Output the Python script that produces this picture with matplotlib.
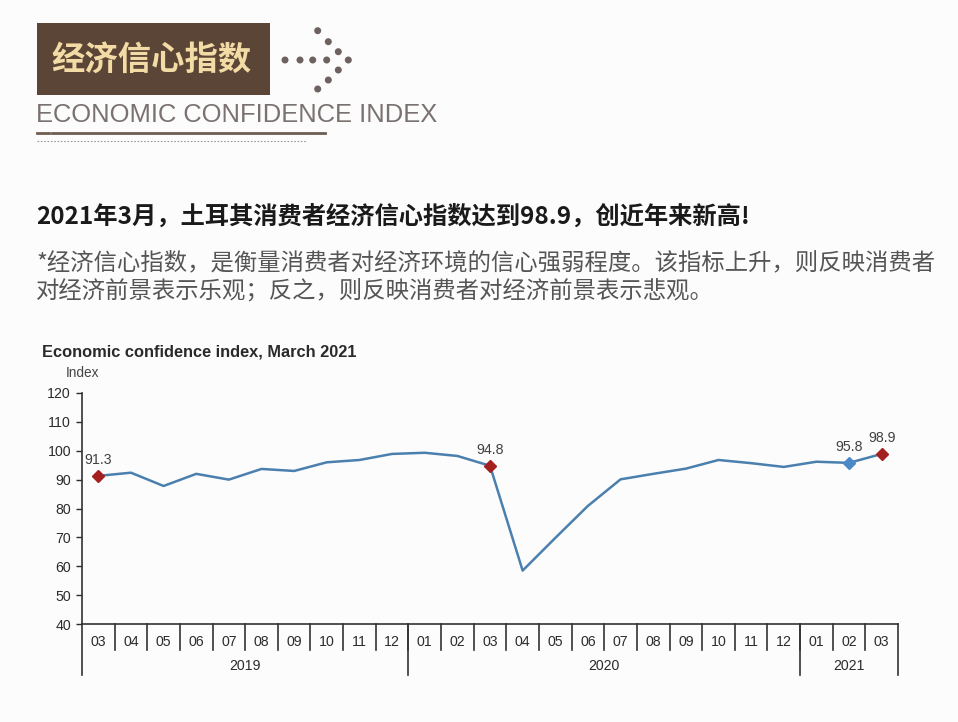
import matplotlib
matplotlib.use("Agg")
import matplotlib.pyplot as plt
import matplotlib.transforms as mtransforms
from matplotlib.patches import Rectangle, Ellipse
from matplotlib.lines import Line2D

# ---------------- data ----------------
months = ["03", "04", "05", "06", "07", "08", "09", "10", "11", "12",
          "01", "02", "03", "04", "05", "06", "07", "08", "09", "10", "11", "12",
          "01", "02", "03"]
years = ["2019", "2020", "2021"]
year_counts = [10, 12, 3]
values = [91.3, 92.4, 87.8, 92.0, 90.0, 93.7, 93.0, 96.0, 96.8, 98.9,
          99.3, 98.2, 94.8, 58.5, 69.8, 80.9, 90.1, 92.0, 93.8, 96.8, 95.7, 94.4,
          96.2, 95.8, 98.9]
highlight_red = [0, 12, 24]
highlight_blue = [23]
yticks = [40, 50, 60, 70, 80, 90, 100, 110, 120]

header_cn = "经济信心指数"
header_en = "ECONOMIC CONFIDENCE INDEX"
headline = "2021年3月，土耳其消费者经济信心指数达到98.9，创近年来新高!"
desc1 = "*经济信心指数，是衡量消费者对经济环境的信心强弱程度。该指标上升，则反映消费者"
desc2 = "对经济前景表示乐观；反之，则反映消费者对经济前景表示悲观。"
chart_title = "Economic confidence index, March 2021"
unit_label = "Index"

# decoration: arrow of dots (pixel coordinates)
arrow_dots = [(285, 60), (300, 60), (312.7, 60), (326.7, 60), (348.3, 60),
              (317.7, 30.7), (328.3, 41.7), (338.3, 51.7),
              (338.3, 70), (328.3, 80), (317.7, 89)]

W, H = 958, 722
CJK = ["Noto Sans CJK SC", "DejaVu Sans"]
plt.rcParams['font.family'] = ["Liberation Sans", "Noto Sans CJK SC", "DejaVu Sans"]

fig = plt.figure(figsize=(W / 100, H / 100), dpi=100)
fig.patch.set_facecolor("#fcfcfc")


def fx(x):
    return x / W


def fy(y):
    return 1 - y / H


# ---------------- header ----------------
fig.patches.append(Rectangle((fx(37), fy(95)), fx(270) - fx(37), fy(23) - fy(95),
                             transform=fig.transFigure, facecolor="#5b4536",
                             edgecolor="none"))
fig.text(fx(152), fy(60), header_cn, family=CJK, fontsize=24, fontweight="bold",
         color="#f2dba5", ha="center", va="center")
for (px, py) in arrow_dots:
    fig.patches.append(Ellipse((fx(px), fy(py)), 7.0 / W, 7.0 / H, transform=fig.transFigure,
                               facecolor="#6e6260", edgecolor="none"))
fig.text(fx(36), fy(115), header_en, fontsize=18.4, color="#7a7270",
         ha="left", va="center")
fig.lines.append(Line2D([fx(37), fx(49)], [fy(133), fy(133)], transform=fig.transFigure,
                        color="#6e5d52", lw=2))
fig.lines.append(Line2D([fx(52), fx(325)], [fy(133), fy(133)], transform=fig.transFigure,
                        color="#6e5d52", lw=2))
fig.lines.append(Line2D([fx(37), fx(307)], [fy(141), fy(141)], transform=fig.transFigure,
                        color="#9a9a9a", lw=0.8, linestyle=(0, (1.5, 1.5))))

# ---------------- text block ----------------
fig.text(fx(36), fy(218), headline, family=CJK, fontsize=17.5, fontweight="bold",
         color="#1a1a1a", ha="left", va="center")
fig.text(fx(36), fy(263), desc1, family=CJK, fontsize=16.8, color="#555555",
         ha="left", va="center")
fig.text(fx(36), fy(292), desc2, family=CJK, fontsize=16.8, color="#555555",
         ha="left", va="center")

# ---------------- chart ----------------
fig.text(fx(42), fy(352), chart_title, fontsize=11.8, fontweight="bold", color="#2a2a2a",
         ha="left", va="center")
fig.text(fx(66), fy(373), unit_label, fontsize=9.8, color="#444444", ha="left", va="center")

ax = fig.add_axes([fx(82), fy(624), fx(898) - fx(82), fy(393) - fy(624)])
ax.set_facecolor("none")
x = list(range(len(values)))
ax.plot(x, values, color="#4a7fae", lw=1.8, zorder=2)
ax.plot([x[i] for i in highlight_red], [values[i] for i in highlight_red], "D",
        color="#a3201e", markersize=6, zorder=3)
ax.plot([x[i] for i in highlight_blue], [values[i] for i in highlight_blue], "D",
        color="#4a88c7", markersize=6, zorder=3)
for i in highlight_red + highlight_blue:
    ax.annotate(f"{values[i]:.1f}", (x[i], values[i]), xytext=(0, 6.5),
                textcoords="offset points", ha="center", va="bottom",
                fontsize=10.2, color="#404040")

ax.set_xlim(-0.5, len(values) - 0.5)
ax.set_ylim(40, 120)
ax.set_yticks(yticks)
ax.tick_params(axis="y", labelsize=10.2, length=4, width=1, pad=4, colors="#2b2b2b")
ax.set_xticks([])
for s in ["top", "right"]:
    ax.spines[s].set_visible(False)
ax.spines["left"].set_color("#333333")
ax.spines["bottom"].set_color("#333333")
ax.spines["left"].set_linewidth(1.2)
ax.spines["bottom"].set_linewidth(1.2)

trans = mtransforms.blended_transform_factory(ax.transData, ax.transAxes)
for i, m in enumerate(months):
    ax.text(i, -0.077, m, transform=trans, ha="center", va="center",
            fontsize=10.2, color="#2b2b2b")

# separators
boundaries = [-0.5]
acc = -0.5
for c in year_counts:
    acc += c
    boundaries.append(acc)
for b in range(1, len(values)):
    xb = b - 0.5
    ax.plot([xb, xb], [0, -0.113], transform=trans, color="#333333", lw=1.2,
            clip_on=False)
for xb in boundaries:
    ax.plot([xb, xb], [0, -0.221], transform=trans, color="#333333", lw=1.2,
            clip_on=False)
start = -0.5
for yname, c in zip(years, year_counts):
    ax.text(start + c / 2, -0.182, yname, transform=trans, ha="center", va="center",
            fontsize=10.2, color="#2b2b2b")
    start += c

fig.savefig("out.png", dpi=100, facecolor=fig.get_facecolor())
